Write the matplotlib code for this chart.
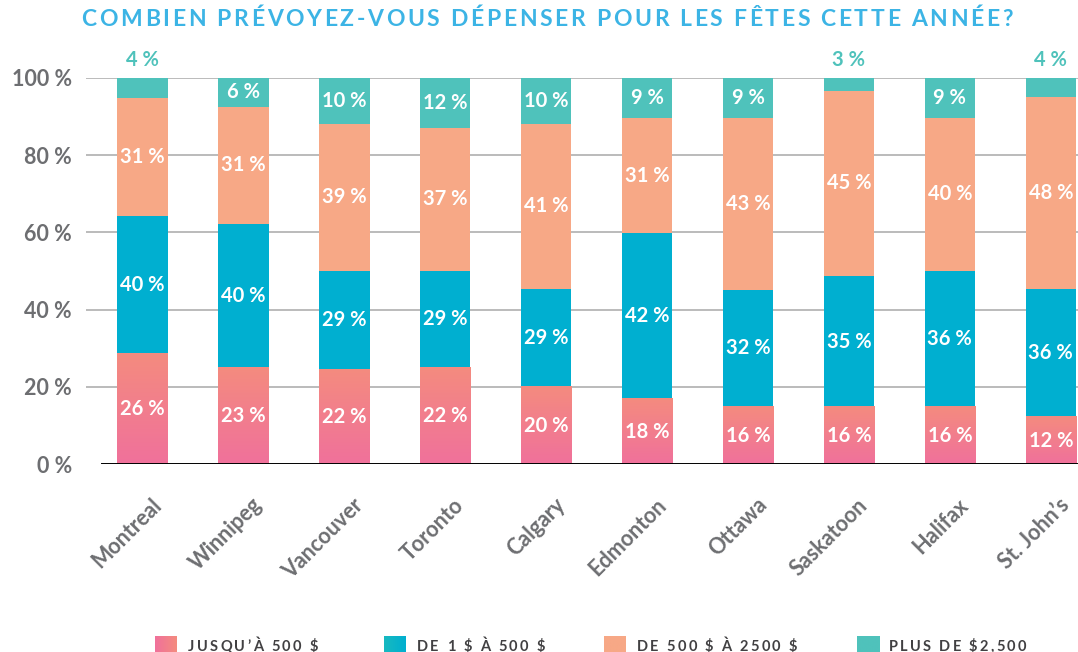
import numpy as np
import matplotlib
matplotlib.use("Agg")
import matplotlib.pyplot as plt
from matplotlib.colors import LinearSegmentedColormap
from matplotlib.font_manager import FontProperties
from matplotlib.transforms import ScaledTranslation

# ---- data -------------------------------------------------------------
cities = ["Montreal", "Winnipeg", "Vancouver", "Toronto", "Calgary",
          "Edmonton", "Ottawa", "Saskatoon", "Halifax", "St. John\u2019s"]

# segment heights as drawn on the chart (share of bar, %)
upto_500 = [28.6, 25.0, 24.5, 25.0, 20.0, 16.9, 14.8, 14.8, 14.8, 12.2]
from_1_to_500 = [35.7, 37.2, 25.6, 25.1, 25.4, 42.8, 30.4, 33.9, 35.3, 33.1]
from_500_to_2500 = [30.4, 30.2, 38.0, 37.0, 42.7, 30.0, 44.5, 47.9, 39.6, 49.7]
over_2500 = [5.3, 7.6, 11.9, 12.9, 11.9, 10.3, 10.3, 3.4, 10.3, 5.0]

# printed labels
lbl_upto_500 = [26, 23, 22, 22, 20, 18, 16, 16, 16, 12]
lbl_1_to_500 = [40, 40, 29, 29, 29, 42, 32, 35, 36, 36]
lbl_500_to_2500 = [31, 31, 39, 37, 41, 31, 43, 45, 40, 48]
lbl_over_2500 = [4, 6, 10, 12, 10, 9, 9, 3, 9, 4]

legend_labels = ["JUSQU\u2019\u00c0 500 $", "DE 1 $ \u00c0 500 $",
                 "DE 500 $ \u00c0 2500 $", "PLUS DE $2,500"]
title = "COMBIEN PR\u00c9VOYEZ-VOUS D\u00c9PENSER POUR LES F\u00caTES CETTE ANN\u00c9E?"

# ---- style ------------------------------------------------------------
PINK_BOT, PINK_TOP = "#f0719b", "#f48b7f"
BLUE = "#00afd0"
SALMON = "#f7a886"
TEAL = "#4fc2bb"
GRAY = "#6d6e71"
TITLE_BLUE = "#3cb4e5"
W, H = 1078, 652

fig = plt.figure(figsize=(W / 100, H / 100), dpi=100)
ax = fig.add_axes([86 / W, 1 - 464.3 / H, (W - 86) / W, (464.3 - 77.7) / H])

x = np.arange(len(cities))
bw = 0.5
b1 = ax.bar(x, upto_500, bw, color=PINK_BOT, zorder=2)
bottom2 = np.array(upto_500)
b2 = ax.bar(x, from_1_to_500, bw, bottom=bottom2, color=BLUE, zorder=2)
bottom3 = bottom2 + np.array(from_1_to_500)
b3 = ax.bar(x, from_500_to_2500, bw, bottom=bottom3, color=SALMON, zorder=2)
bottom4 = bottom3 + np.array(from_500_to_2500)
b4 = ax.bar(x, over_2500, bw, bottom=bottom4, color=TEAL, zorder=2)

# gradient on the pink segments
pink_cmap = LinearSegmentedColormap.from_list("pk", [PINK_BOT, PINK_TOP])
grad = np.linspace(0, 1, 64).reshape(-1, 1)
for p in b1:
    x0, y0 = p.get_x(), p.get_y()
    ax.imshow(grad, extent=(x0, x0 + p.get_width(), y0, y0 + p.get_height()),
              origin="lower", cmap=pink_cmap, aspect="auto", zorder=2.1)

# segment labels
lab_kw = dict(ha="center", va="center", color="white", fontsize=14.5,
              fontweight="bold", family="Lato", zorder=4)
for i in range(len(cities)):
    ax.text(i, upto_500[i] / 2, f"{lbl_upto_500[i]} %", **lab_kw)
    ax.text(i, bottom2[i] + from_1_to_500[i] / 2, f"{lbl_1_to_500[i]} %", **lab_kw)
    ax.text(i, bottom3[i] + from_500_to_2500[i] / 2, f"{lbl_500_to_2500[i]} %", **lab_kw)
    if over_2500[i] >= 6:
        ax.text(i, bottom4[i] + over_2500[i] / 2, f"{lbl_over_2500[i]} %", **lab_kw)
    else:
        kw = dict(lab_kw, color=TEAL)
        ax.text(i, 104.5, f"{lbl_over_2500[i]} %", clip_on=False, **kw)

# grid and baseline
for v in range(20, 101, 20):
    ax.axhline(v, color="#b5b5b5", lw=1.3, zorder=1)
ax.axhline(0, xmin=(102 - 86) / (W - 86), color="black", lw=1.4, zorder=3)

ax.set_xlim(-0.56, 9.27)
ax.set_ylim(0, 100)
for s in ax.spines.values():
    s.set_visible(False)
ax.set_xticks([])
ax.set_yticks(range(0, 101, 20))
ax.set_yticklabels([f"{v} %" for v in range(0, 101, 20)])
ax.tick_params(axis="y", length=0, pad=10, labelcolor=GRAY)
for t in ax.get_yticklabels():
    t.set_fontfamily("Lato")
    t.set_fontweight("bold")
    t.set_fontsize(15.5)

# rotated city names
off = ScaledTranslation(23 / 100, -30 / 100, fig.dpi_scale_trans)
for i, c in enumerate(cities):
    ax.text(i, 0, c, transform=ax.transData + off, rotation=45, ha="right",
            va="top", color=GRAY, fontsize=15.5, fontweight="bold",
            family="Lato")


# ---- letter-spaced text helper ------------------------------------------
def spaced_text(xp, yp, s, size, color, track, ha="left"):
    fp = FontProperties(family="Lato", weight="bold", size=size)
    r = fig.canvas.get_renderer()
    hw = r.get_text_width_height_descent("H", fp, ismath=False)[0]

    def adv(t):
        return r.get_text_width_height_descent(t + "H", fp, ismath=False)[0] - hw

    offs = [adv(s[:i]) + i * track for i in range(len(s))]
    total = offs[-1] + adv(s[-1])
    start = xp - total / 2 if ha == "center" else xp
    for ch, o in zip(s, offs):
        if ch != " ":
            fig.text((start + o) / W, 1 - yp / H, ch, fontproperties=fp,
                     color=color, ha="left", va="baseline")


spaced_text(547, 26.5, title, 16.5, TITLE_BLUE, 2.65, ha="center")

# legend
leg_sq_x = [155, 384, 604, 857]
leg_txt_x = [188, 417, 637, 889]
sq_grads = [(PINK_BOT, PINK_TOP), ("#17b9c0", BLUE), (SALMON, SALMON), (TEAL, TEAL)]
for sx, tx, lab, (ca, cb) in zip(leg_sq_x, leg_txt_x, legend_labels, sq_grads):
    lax = fig.add_axes([sx / W, 0, 22 / W, (H - 635.6) / H])
    cm = LinearSegmentedColormap.from_list("g", [ca, cb])
    lax.imshow(np.linspace(0, 1, 32).reshape(1, -1), cmap=cm, aspect="auto",
               extent=(0, 1, 0, 1))
    lax.set_axis_off()
    spaced_text(tx, 651, lab, 10.5, "#414042", 2.3)

fig.savefig("out.png", dpi=100)
